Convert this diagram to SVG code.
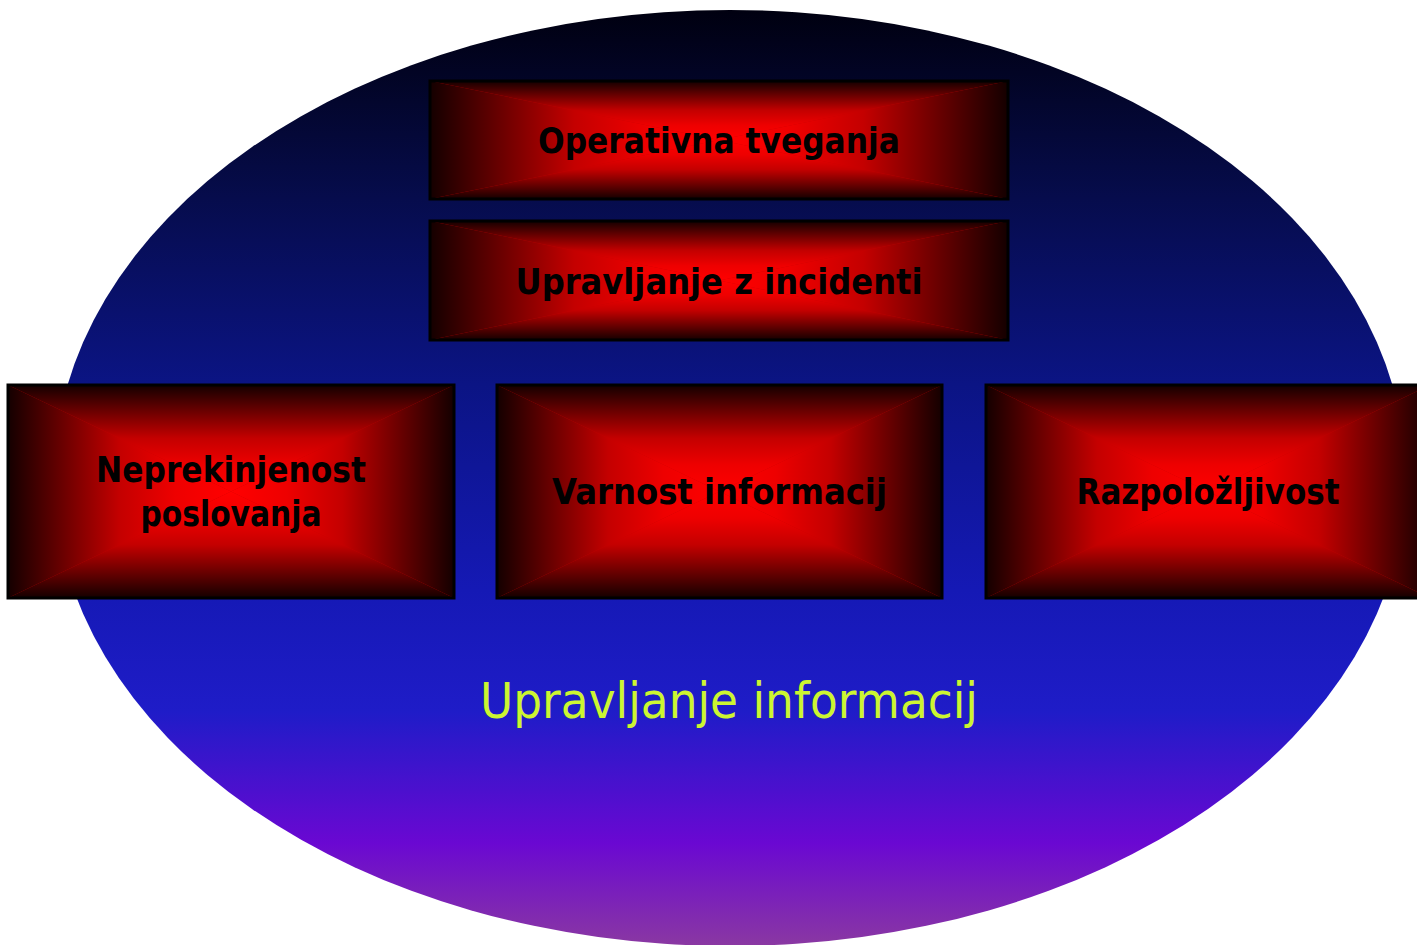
<svg xmlns="http://www.w3.org/2000/svg" width="1417" height="945" viewBox="0 0 1417 945">
  <defs>
    <linearGradient id="sky" x1="0" y1="0" x2="0" y2="1">
      <stop offset="0" stop-color="#000010"/>
      <stop offset="0.2" stop-color="#060c4c"/>
      <stop offset="0.4" stop-color="#0b1484"/>
      <stop offset="0.62" stop-color="#1519b5"/>
      <stop offset="0.75" stop-color="#1f1cc8"/>
      <stop offset="0.89" stop-color="#6a08d2"/>
      <stop offset="1" stop-color="#8a38a2"/>
    </linearGradient>
    <!-- rectangular "from centre" fill built from four edge-to-centre wedges -->
    <linearGradient id="ramp">
      <stop offset="0" stop-color="#140000"/>
      <stop offset="0.25" stop-color="#6c0000"/>
      <stop offset="0.5" stop-color="#c40000"/>
      <stop offset="0.75" stop-color="#ee0000"/>
      <stop offset="1" stop-color="#ff0000"/>
    </linearGradient>
    <linearGradient id="gL" href="#ramp" x1="0" y1="0" x2="1" y2="0"/>
    <linearGradient id="gR" href="#ramp" x1="1" y1="0" x2="0" y2="0"/>
    <linearGradient id="gT" href="#ramp" x1="0" y1="0" x2="0" y2="1"/>
    <linearGradient id="gB" href="#ramp" x1="0" y1="1" x2="0" y2="0"/>
  </defs>
  <style>
    .base { fill: #c40000; }
    .frame { fill: none; stroke: #000000; stroke-width: 3; }
    .wl { fill: url(#gL); }
    .wr { fill: url(#gR); }
    .wt { fill: url(#gT); }
    .wb { fill: url(#gB); }
    .lbl { font-family: "Comic Sans MS", "DejaVu Sans", sans-serif; font-weight: bold; font-size: 36px; fill: #000000; text-anchor: middle; }
    .title { font-family: "Comic Sans MS", "DejaVu Sans", sans-serif; font-size: 49px; fill: #ccf531; text-anchor: middle; }
  </style>

  <rect width="1417" height="945" fill="#ffffff"/>

  <g id="ellipse">
    <ellipse cx="730" cy="478" rx="676" ry="468" fill="url(#sky)"/>
    <text class="title" x="729" y="718" textLength="498" lengthAdjust="spacingAndGlyphs">Upravljanje informacij</text>
  </g>

  <g id="connectors"></g>

  <!-- box: x=430 y=81 w=578 h=118, centre 719,140 -->
  <g id="operativna">
    <rect class="base" x="430" y="81" width="578" height="118"/>
    <polygon class="wl" points="430,81 719,140 430,199"/>
    <polygon class="wr" points="1008,81 719,140 1008,199"/>
    <polygon class="wt" points="430,81 1008,81 719,140"/>
    <polygon class="wb" points="430,199 1008,199 719,140"/>
    <rect class="frame" x="430" y="81" width="578" height="118"/>
    <text class="lbl" x="719" y="153" textLength="362" lengthAdjust="spacingAndGlyphs">Operativna tveganja</text>
  </g>

  <!-- box: x=430 y=221 w=578 h=119, centre 719,280.5 -->
  <g id="incidenti">
    <rect class="base" x="430" y="221" width="578" height="119"/>
    <polygon class="wl" points="430,221 719,280.5 430,340"/>
    <polygon class="wr" points="1008,221 719,280.5 1008,340"/>
    <polygon class="wt" points="430,221 1008,221 719,280.5"/>
    <polygon class="wb" points="430,340 1008,340 719,280.5"/>
    <rect class="frame" x="430" y="221" width="578" height="119"/>
    <text class="lbl" x="719" y="294" textLength="407" lengthAdjust="spacingAndGlyphs">Upravljanje z incidenti</text>
  </g>

  <!-- box: x=8 y=385 w=446 h=213, centre 231,491.5 -->
  <g id="neprekinjenost">
    <rect class="base" x="8" y="385" width="446" height="213"/>
    <polygon class="wl" points="8,385 231,491.5 8,598"/>
    <polygon class="wr" points="454,385 231,491.5 454,598"/>
    <polygon class="wt" points="8,385 454,385 231,491.5"/>
    <polygon class="wb" points="8,598 454,598 231,491.5"/>
    <rect class="frame" x="8" y="385" width="446" height="213"/>
    <text class="lbl" x="231" y="482" textLength="270" lengthAdjust="spacingAndGlyphs">Neprekinjenost</text>
    <text class="lbl" x="231" y="526" textLength="181" lengthAdjust="spacingAndGlyphs">poslovanja</text>
  </g>

  <!-- box: x=497 y=385 w=445 h=213, centre 719.5,491.5 -->
  <g id="varnost">
    <rect class="base" x="497" y="385" width="445" height="213"/>
    <polygon class="wl" points="497,385 719.5,491.5 497,598"/>
    <polygon class="wr" points="942,385 719.5,491.5 942,598"/>
    <polygon class="wt" points="497,385 942,385 719.5,491.5"/>
    <polygon class="wb" points="497,598 942,598 719.5,491.5"/>
    <rect class="frame" x="497" y="385" width="445" height="213"/>
    <text class="lbl" x="719.5" y="504" textLength="335" lengthAdjust="spacingAndGlyphs">Varnost informacij</text>
  </g>

  <!-- box: x=986 y=385 w=444 h=213, centre 1208,491.5 (runs past the right edge) -->
  <g id="razpolozljivost">
    <rect class="base" x="986" y="385" width="444" height="213"/>
    <polygon class="wl" points="986,385 1208,491.5 986,598"/>
    <polygon class="wr" points="1430,385 1208,491.5 1430,598"/>
    <polygon class="wt" points="986,385 1430,385 1208,491.5"/>
    <polygon class="wb" points="986,598 1430,598 1208,491.5"/>
    <rect class="frame" x="986" y="385" width="444" height="213"/>
    <text class="lbl" x="1208" y="504" textLength="263" lengthAdjust="spacingAndGlyphs">Razpoložljivost</text>
  </g>
</svg>
